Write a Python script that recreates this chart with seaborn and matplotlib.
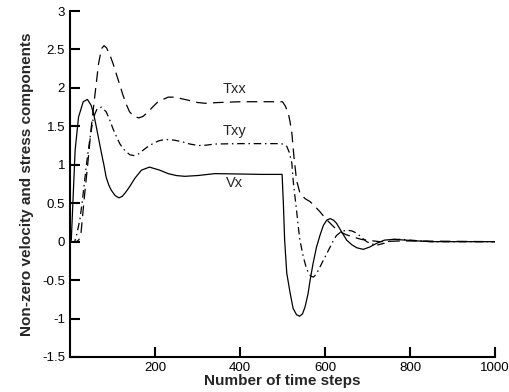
import matplotlib
matplotlib.use('Agg')
import matplotlib.pyplot as plt
import seaborn as sns

# -----------------------------
# Data
# -----------------------------
steps_vx = [0, 3, 7, 12, 20, 31, 41, 50, 56, 62, 68, 74, 80, 85, 91, 97, 106, 115, 123,
            132, 142, 152, 168, 187, 211, 231, 250, 270, 300, 341, 400, 450, 499, 502,
            505, 510, 518, 525, 533, 540, 547, 553, 560, 565, 572, 580, 588, 596, 604,
            612, 620, 627, 640, 651, 663, 675, 690, 705, 722, 740, 761, 790, 816, 850, 1000]
vx = [0.0, 0.02, 0.54, 1.19, 1.62, 1.82, 1.85, 1.77, 1.65, 1.49, 1.32, 1.15, 0.99, 0.84,
      0.74, 0.67, 0.60, 0.57, 0.59, 0.65, 0.73, 0.82, 0.93, 0.97, 0.93, 0.885, 0.86, 0.85,
      0.86, 0.885, 0.88, 0.875, 0.875, 0.5, 0.02, -0.41, -0.67, -0.87, -0.95, -0.97,
      -0.94, -0.85, -0.68, -0.5, -0.28, -0.07, 0.08, 0.21, 0.28, 0.30, 0.28, 0.24, 0.12,
      0.02, -0.04, -0.08, -0.10, -0.07, -0.02, 0.02, 0.03, 0.02, 0.01, 0.0, 0.0]

steps_txx = [0, 15, 20, 25, 33, 41, 50, 58, 67, 74, 80, 86, 93, 101, 109, 117, 125, 132,
             140, 150, 162, 172, 184, 196, 207, 231, 246, 262, 278, 300, 318, 350, 400,
             450, 500, 507, 514, 518, 522, 527, 533, 541, 553, 565, 576, 588, 600, 612,
             623, 635, 650, 667, 685, 698, 729, 780, 1000]
txx = [0.0, 0.0, 0.02, 0.06, 0.54, 0.97, 1.49, 1.88, 2.31, 2.51, 2.55, 2.52, 2.44, 2.32,
       2.18, 2.04, 1.90, 1.79, 1.69, 1.63, 1.61, 1.63, 1.69, 1.76, 1.82, 1.88, 1.88, 1.86,
       1.84, 1.81, 1.80, 1.81, 1.82, 1.82, 1.82, 1.76, 1.66, 1.55, 1.41, 1.10, 0.80, 0.63,
       0.56, 0.52, 0.46, 0.39, 0.31, 0.24, 0.18, 0.13, 0.09, 0.06, 0.03, 0.02, 0.0, 0.01,
       0.0]

steps_txy = [0, 11, 16, 23, 29, 34.5, 39, 44, 49, 54, 59, 64, 74, 85, 93, 101, 109, 117,
             125, 132, 141, 150.6, 161, 172, 184, 195, 208, 223, 246, 263, 282, 302, 320,
             341, 400, 450, 497, 505, 510, 516, 522, 525, 529, 533, 537, 541, 549, 555,
             561, 567, 573, 580, 588, 600, 612, 620, 627, 638, 651, 663, 675, 687, 698,
             710, 722, 740, 761, 780, 800, 850, 1000]
txy = [0.0, 0.0, 0.1, 0.28, 0.53, 0.8, 1.02, 1.23, 1.42, 1.58, 1.67, 1.73, 1.75, 1.69,
       1.59, 1.47, 1.37, 1.275, 1.21, 1.17, 1.13, 1.12, 1.14, 1.19, 1.24, 1.275, 1.31, 1.33,
       1.32, 1.30, 1.27, 1.25, 1.255, 1.27, 1.275, 1.275, 1.275, 1.26, 1.24, 1.16, 1.02,
       0.8, 0.6, 0.41, 0.2, 0.02, -0.2, -0.32, -0.41, -0.45, -0.46, -0.42, -0.33, -0.20,
       -0.07, 0.02, 0.08, 0.13, 0.15, 0.14, 0.11, 0.05, 0.0, -0.03, -0.045, -0.02, 0.03,
       0.03, 0.02, 0.0, 0.0]

x_ticks = [200, 400, 600, 800, 1000]
y_ticks = [-1.5, -1, -0.5, 0, 0.5, 1, 1.5, 2, 2.5, 3]
y_labels = ['-1.5', '-1', '-0.5', '0', '0.5', '1', '1.5', '2', '2.5', '3']

# -----------------------------
# Style
# -----------------------------
sns.set_style('ticks')
plt.rcParams['font.family'] = ['Liberation Sans', 'DejaVu Sans']

fig = plt.figure(figsize=(5.1, 3.92), dpi=100)
ax = fig.add_axes([0.1373, 0.0893, 0.8333, 0.8826])

# -----------------------------
# Curves
# -----------------------------
sns.lineplot(x=steps_vx, y=vx, ax=ax, color='black', lw=0.9, linestyle='-')
sns.lineplot(x=steps_txx, y=txx, ax=ax, color='black', lw=0.9, linestyle=(0, (8.5, 5)))
sns.lineplot(x=steps_txy, y=txy, ax=ax, color='black', lw=0.9,
             linestyle=(0, (6, 3, 1.2, 3)))

ax.text(388, 1.98, 'Txx', ha='center', va='center', fontsize=10.5)
ax.text(388, 1.44, 'Txy', ha='center', va='center', fontsize=10.5)
ax.text(388, 0.76, 'Vx', ha='center', va='center', fontsize=10.5)

# -----------------------------
# Axes
# -----------------------------
ax.set_xlim(0, 1000)
ax.set_ylim(-1.5, 3)
ax.set_xticks(x_ticks)
ax.set_xticklabels([str(t) for t in x_ticks])
ax.set_yticks(y_ticks)
ax.set_yticklabels(y_labels)
ax.tick_params(direction='in', length=7, width=1.5, labelsize=9.5, colors='black')
for side in ['left', 'bottom']:
    ax.spines[side].set_linewidth(1.5)
    ax.spines[side].set_color('black')
sns.despine(ax=ax)

ax.set_xlabel('Number of time steps', fontweight='bold', fontsize=11, labelpad=0)
ax.set_ylabel('Non-zero velocity and stress components', fontweight='bold',
              fontsize=11, labelpad=6)

fig.savefig('out.png', dpi=100)
